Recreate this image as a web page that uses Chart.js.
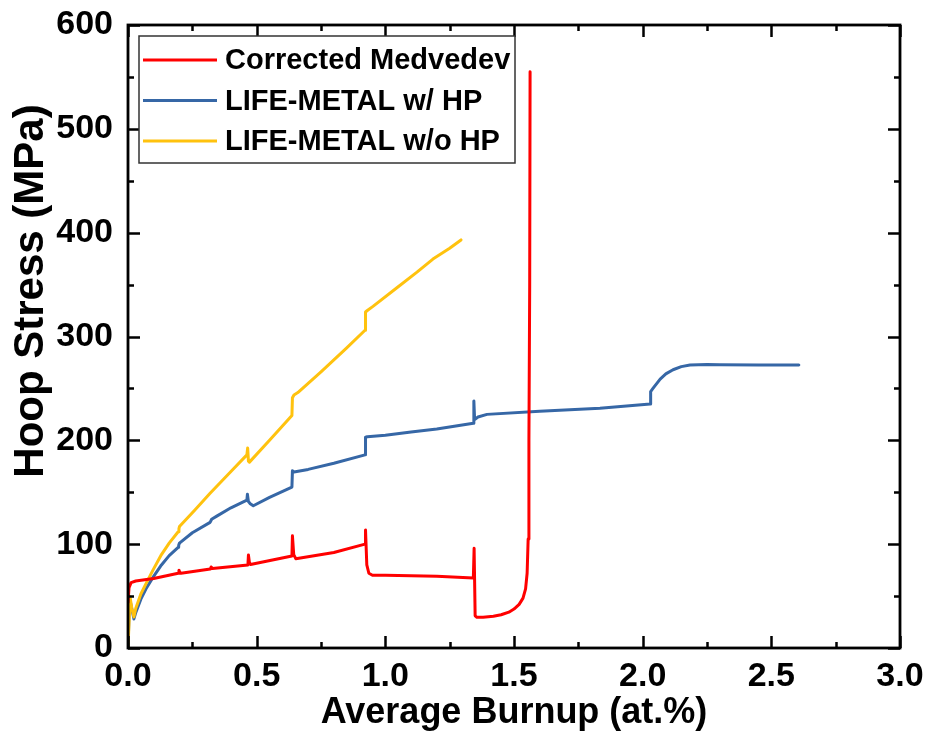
<!DOCTYPE html>
<html>
<head>
<meta charset="utf-8">
<script src="https://cdn.jsdelivr.net/npm/chart.js@4.4.0/dist/chart.umd.min.js"></script>
<style>
  html, body { margin: 0; padding: 0; background: #ffffff; }
  canvas { display: block; }
</style>
</head>
<body>
<canvas id="chart" width="930" height="734"></canvas>
<script>
// Series names and colours
const seriesNames = ['Corrected Medvedev', 'LIFE-METAL w/ HP', 'LIFE-METAL w/o HP'];
const seriesColors = ['#ff0000', '#3667a6', '#ffc20e'];

// Corrected Medvedev: average burnup (at.%) and hoop stress (MPa)
const medvedevBurnup = [0, 0.004, 0.012, 0.03, 0.1, 0.195, 0.198, 0.201, 0.206, 0.32, 0.323, 0.328,
  0.466, 0.468, 0.472, 0.476, 0.637, 0.639, 0.644, 0.652, 0.8, 0.921, 0.923, 0.928, 0.936, 0.95,
  1.0, 1.2, 1.342, 1.345, 1.349, 1.356, 1.38, 1.42, 1.45, 1.48, 1.50, 1.52, 1.535, 1.545, 1.551,
  1.555, 1.558, 1.561, 1.5625];
const medvedevStress = [44, 58, 63, 64.5, 67, 72, 75, 73, 72, 76, 78, 76.5,
  80, 89.5, 82, 80.5, 88.6, 108, 90, 86, 92, 100, 113.6, 80, 72, 70,
  70, 69, 67.4, 96, 31, 29.5, 29.7, 30.5, 32, 34.5, 37.5, 42, 48, 57, 72,
  105, 200, 350, 555];

// LIFE-METAL with HP
const hpBurnup = [0, 0.006, 0.013, 0.023, 0.03, 0.05, 0.07, 0.097, 0.13, 0.16, 0.195, 0.197, 0.2,
  0.25, 0.319, 0.325, 0.345, 0.4, 0.462, 0.464, 0.468, 0.475, 0.487, 0.55, 0.637, 0.639, 0.645,
  0.7, 0.8, 0.921, 0.923, 0.93, 1.0, 1.1, 1.2, 1.342, 1.344, 1.347, 1.36, 1.395, 1.6, 1.834,
  2.029, 2.031, 2.04, 2.068, 2.09, 2.118, 2.15, 2.184, 2.25, 2.3, 2.45, 2.607];
const hpStress = [0, 48, 40, 28, 34, 47, 57, 68, 80, 89, 97, 99, 101,
  111, 121, 124, 127, 135, 142.5, 148, 141, 139, 137, 145, 155, 170.6, 169.6,
  172, 178, 186, 203, 203.5, 205, 208, 211, 216.5, 238, 220, 222.5, 225, 228, 231,
  235, 247, 250, 259, 264, 268, 271, 272.6, 273, 272.8, 272.6, 272.5];

// LIFE-METAL without HP
const noHpBurnup = [0, 0.008, 0.015, 0.023, 0.03, 0.05, 0.07, 0.097, 0.13, 0.16, 0.195, 0.198, 0.2,
  0.26, 0.319, 0.4, 0.462, 0.465, 0.468, 0.472, 0.55, 0.637, 0.639, 0.645, 0.66, 0.75, 0.85,
  0.921, 0.923, 0.93, 0.952, 1.045, 1.123, 1.185, 1.25, 1.294];
const noHpStress = [0, 49, 38, 30, 38, 52, 62, 75, 90, 101, 112, 115, 117,
  133, 149, 170, 186, 192.6, 180, 179, 200, 224, 241, 243.7, 246, 266, 289,
  306, 323.6, 325, 329, 347, 362, 374.6, 385, 393];

// Axis ticks
const xTickValues = [0, 0.5, 1.0, 1.5, 2.0, 2.5, 3.0];
const xTickLabels = ['0.0', '0.5', '1.0', '1.5', '2.0', '2.5', '3.0'];
const yTickValues = [0, 100, 200, 300, 400, 500, 600];
const yTickLabels = ['0', '100', '200', '300', '400', '500', '600'];

const xTitle = 'Average Burnup (at.%)';
const yTitle = 'Hoop Stress (MPa)';

const FONT = 'Liberation Sans, Arial, sans-serif';

function toPoints(xs, ys) {
  return xs.map((x, i) => ({ x: x, y: ys[i] }));
}

// Box frame with inward major/minor ticks on all four sides,
// a boxed legend in the upper left and a rotated y title.
const framePlugin = {
  id: 'frame',
  afterDatasetsDraw(chart) {
    const { ctx, chartArea: a, scales } = chart;
    const xs = scales.x, ys = scales.y;
    ctx.save();
    ctx.strokeStyle = '#000';
    ctx.lineCap = 'butt';
    ctx.lineWidth = 2.5;
    // x ticks (every 0.25, major every 0.5)
    for (let k = 0; k <= 12; k++) {
      const v = k * 0.25;
      const px = Math.round(xs.getPixelForValue(v)) + 0.5;
      const len = (k % 2 === 0) ? 12 : 6;
      ctx.beginPath();
      ctx.moveTo(px, a.bottom); ctx.lineTo(px, a.bottom - len);
      ctx.moveTo(px, a.top); ctx.lineTo(px, a.top + len);
      ctx.stroke();
    }
    // y ticks (every 50, major every 100)
    for (let k = 0; k <= 12; k++) {
      const v = k * 50;
      const py = Math.round(ys.getPixelForValue(v)) + 0.5;
      const len = (k % 2 === 0) ? 12 : 6;
      ctx.beginPath();
      ctx.moveTo(a.left, py); ctx.lineTo(a.left + len, py);
      ctx.moveTo(a.right, py); ctx.lineTo(a.right - len, py);
      ctx.stroke();
    }
    ctx.lineWidth = 2.8;
    ctx.strokeRect(a.left, a.top, a.right - a.left, a.bottom - a.top);
    ctx.restore();
  },
  afterDraw(chart) {
    const { ctx, chartArea: a } = chart;
    ctx.save();
    // legend
    const bx = a.left + 11, by = a.top + 11, bw = 376, bh = 127;
    ctx.fillStyle = '#fff';
    ctx.fillRect(bx, by, bw, bh);
    ctx.strokeStyle = '#333';
    ctx.lineWidth = 1.5;
    ctx.strokeRect(bx, by, bw, bh);
    ctx.font = 'bold 29px ' + FONT;
    ctx.textBaseline = 'middle';
    ctx.textAlign = 'left';
    chart.data.datasets.forEach((ds, i) => {
      const cy = by + 24 + i * 40.5;
      ctx.strokeStyle = ds.borderColor;
      ctx.lineWidth = 3;
      ctx.beginPath();
      ctx.moveTo(bx + 4, cy); ctx.lineTo(bx + 78, cy);
      ctx.stroke();
      ctx.fillStyle = '#000';
      ctx.fillText(ds.label, bx + 86, cy + 1);
    });
    // y axis title
    ctx.translate(43, 291);
    ctx.rotate(-Math.PI / 2);
    ctx.font = 'bold 42px ' + FONT;
    ctx.textAlign = 'center';
    ctx.textBaseline = 'alphabetic';
    ctx.fillStyle = '#000';
    ctx.fillText(yTitle, 0, 0);
    ctx.restore();
  }
};

const tickFont = { family: FONT, size: 34, weight: 'bold' };

new Chart(document.getElementById('chart'), {
  type: 'line',
  data: {
    datasets: [
      { label: seriesNames[0], data: toPoints(medvedevBurnup, medvedevStress), borderColor: seriesColors[0], order: 0 },
      { label: seriesNames[1], data: toPoints(hpBurnup, hpStress), borderColor: seriesColors[1], order: 2 },
      { label: seriesNames[2], data: toPoints(noHpBurnup, noHpStress), borderColor: seriesColors[2], order: 1 }
    ]
  },
  options: {
    responsive: false,
    animation: false,
    devicePixelRatio: 1,
    layout: { padding: { top: 25, right: 30, left: 0, bottom: 0 } },
    plugins: { legend: { display: false }, tooltip: { enabled: false } },
    elements: {
      point: { radius: 0 },
      line: { borderWidth: 3, tension: 0, borderJoinStyle: 'round', borderCapStyle: 'round', fill: false }
    },
    scales: {
      x: {
        type: 'linear', min: 0, max: 3,
        afterBuildTicks: s => { s.ticks = xTickValues.map(v => ({ value: v })); },
        afterFit: s => { s.height = 86; s.paddingLeft = 0; s.paddingRight = 0; },
        ticks: {
          callback: v => xTickLabels[xTickValues.indexOf(v)] ?? '',
          font: tickFont, color: '#000', padding: 8, maxRotation: 0, autoSkip: false
        },
        grid: { display: false, drawTicks: false },
        border: { display: false },
        title: {
          display: true, text: xTitle, color: '#000',
          font: { family: FONT, size: 36, weight: 'bold', lineHeight: 1.15 },
          padding: { top: 0, bottom: 0 }
        }
      },
      y: {
        type: 'linear', min: 0, max: 600,
        afterBuildTicks: s => { s.ticks = yTickValues.map(v => ({ value: v })); },
        afterFit: s => { s.width = 128; s.paddingTop = 0; s.paddingBottom = 0; },
        ticks: {
          callback: v => yTickLabels[yTickValues.indexOf(v)] ?? '',
          font: tickFont, color: '#000', padding: 15, autoSkip: false
        },
        grid: { display: false, drawTicks: false },
        border: { display: false }
      }
    }
  },
  plugins: [framePlugin]
});
</script>
</body>
</html>
